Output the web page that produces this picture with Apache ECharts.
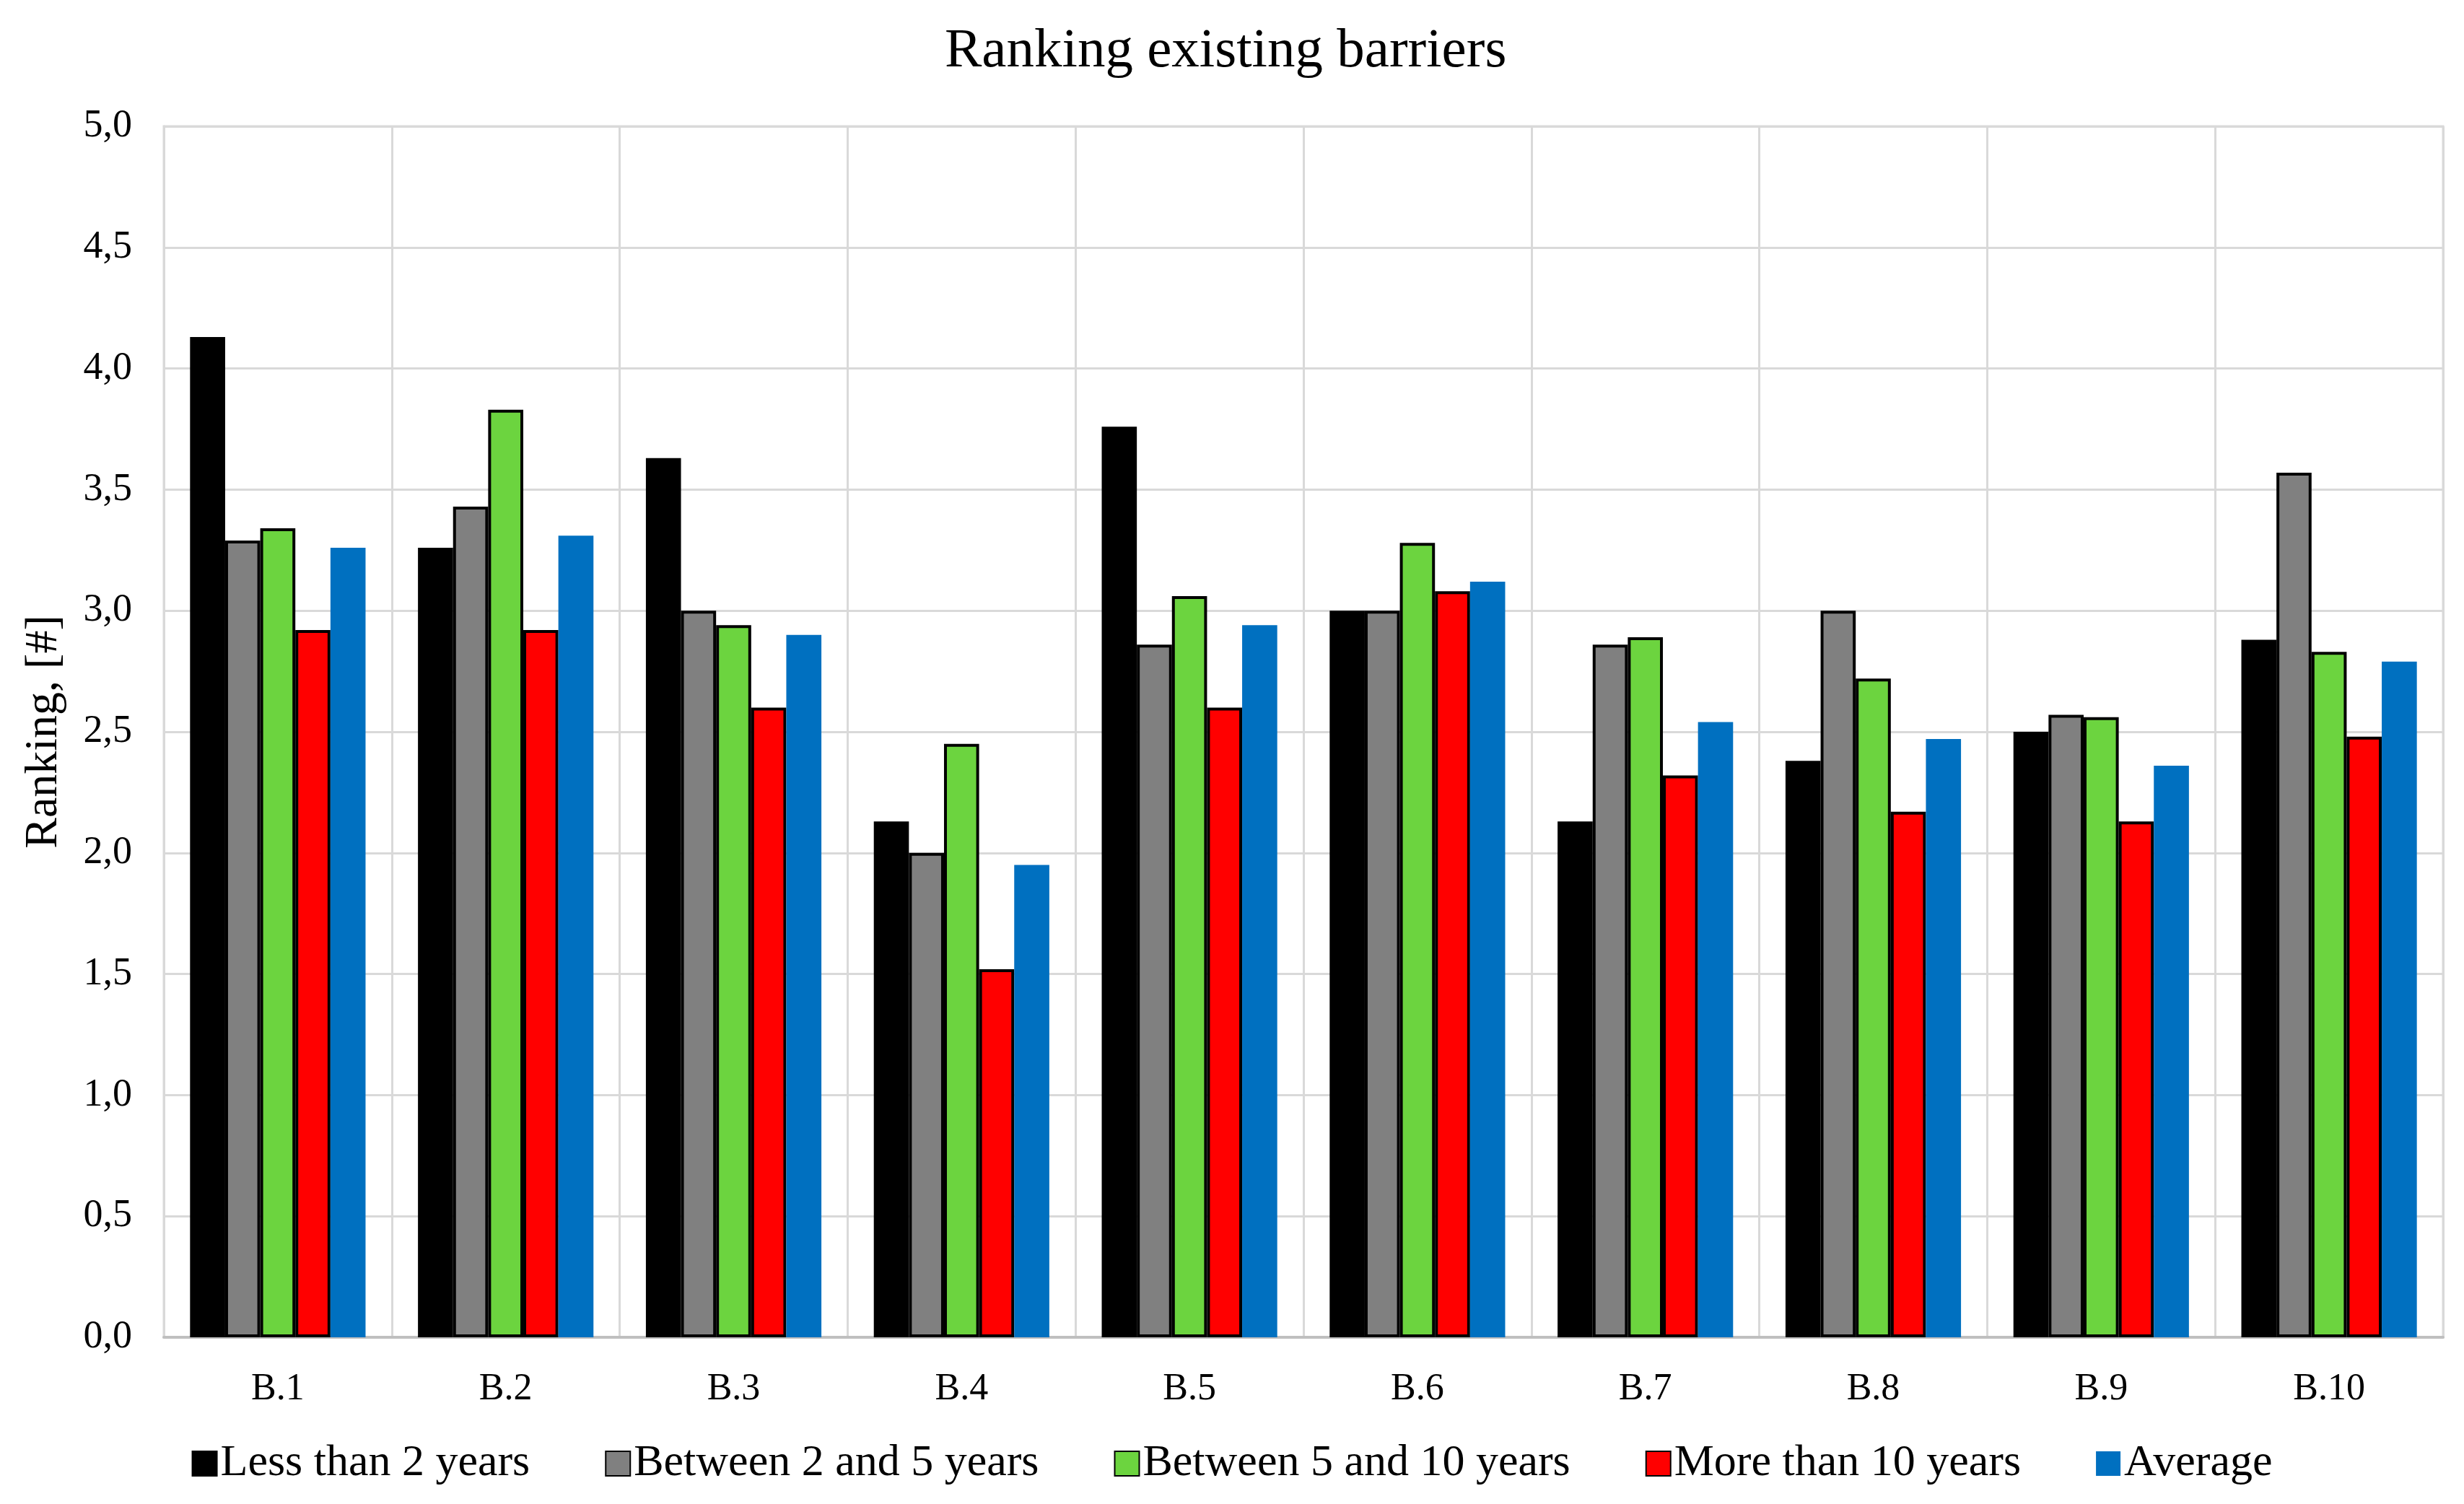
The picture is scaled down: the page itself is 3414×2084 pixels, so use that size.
<!DOCTYPE html>
<html>
<head>
<meta charset="utf-8">
<script src="https://cdn.jsdelivr.net/npm/echarts@6/dist/echarts.min.js"></script>
<style>
html,body{margin:0;padding:0;background:#fff;}
#chart{width:3414px;height:2084px;}
</style>
</head>
<body>
<div id="chart"></div>
<script>
const categories = ['B.1','B.2','B.3','B.4','B.5','B.6','B.7','B.8','B.9','B.10'];
const seriesNames = ['Less than 2 years','Between 2 and 5 years','Between 5 and 10 years','More than 10 years','Average'];
const lessThan2 = [4.13, 3.26, 3.63, 2.13, 3.76, 3.00, 2.13, 2.38, 2.50, 2.88];
const between2and5 = [3.29, 3.43, 3.00, 2.00, 2.86, 3.00, 2.86, 3.00, 2.57, 3.57];
const between5and10 = [3.34, 3.83, 2.94, 2.45, 3.06, 3.28, 2.89, 2.72, 2.56, 2.83];
const moreThan10 = [2.92, 2.92, 2.60, 1.52, 2.60, 3.08, 2.32, 2.17, 2.13, 2.48];
const average = [3.26, 3.31, 2.90, 1.95, 2.94, 3.12, 2.54, 2.47, 2.36, 2.79];
const yTicks = [0, 0.5, 1, 1.5, 2, 2.5, 3, 3.5, 4, 4.5, 5];

const FONT = "'Liberation Serif', 'Times New Roman', serif";
const colors = ['#000000', '#808080', '#6CD43F', '#FF0000', '#0070C0'];
const dataSets = [lessThan2, between2and5, between5and10, moreThan10, average];

const chart = echarts.init(document.getElementById('chart'), null, {renderer: 'canvas'});
const series = dataSets.map((d, i) => ({
  name: seriesNames[i],
  type: 'bar',
  data: d,
  barGap: '0%',
  barCategoryGap: '23%',
  itemStyle: {
    color: colors[i],
    borderColor: i === 4 ? colors[i] : '#000000',
    borderWidth: i === 4 ? 0 : 4
  }
}));

chart.setOption({
  animation: false,
  backgroundColor: '#ffffff',
  textStyle: {fontFamily: FONT, color: '#000'},
  title: {
    text: 'Ranking existing barriers',
    left: 1304, top: 28,
    textStyle: {fontFamily: FONT, fontSize: 77, fontWeight: 'normal', color: '#000'}
  },
  legend: {
    data: seriesNames,
    left: 'center', top: 1992,
    icon: 'rect',
    itemWidth: 34, itemHeight: 34, itemGap: 104,
    textStyle: {fontFamily: FONT, fontSize: 62, color: '#000'}
  },
  grid: {
    left: 227, right: 29, top: 175, bottom: 231,
    show: true, borderColor: '#d9d9d9', borderWidth: 3
  },
  xAxis: {
    type: 'category',
    data: categories,
    axisTick: {show: false},
    axisLine: {show: true, lineStyle: {color: '#bfbfbf', width: 4}},
    axisLabel: {fontFamily: FONT, fontSize: 52, color: '#000', margin: 46},
    splitLine: {show: true, lineStyle: {color: '#d9d9d9', width: 3}}
  },
  yAxis: {
    type: 'value',
    min: 0, max: 5, interval: 0.5,
    name: 'Ranking, [#]',
    nameLocation: 'middle',
    nameGap: 134,
    nameTextStyle: {fontFamily: FONT, fontSize: 64, color: '#000'},
    axisLine: {show: true, lineStyle: {color: '#d9d9d9', width: 3}},
    axisTick: {show: false},
    axisLabel: {
      fontFamily: FONT, fontSize: 54, color: '#000', margin: 44,
      formatter: v => yTicks.includes(v) ? v.toFixed(1).replace('.', ',') : ''
    },
    splitLine: {show: true, lineStyle: {color: '#d9d9d9', width: 3}}
  },
  series: series
});
</script>
</body>
</html>
